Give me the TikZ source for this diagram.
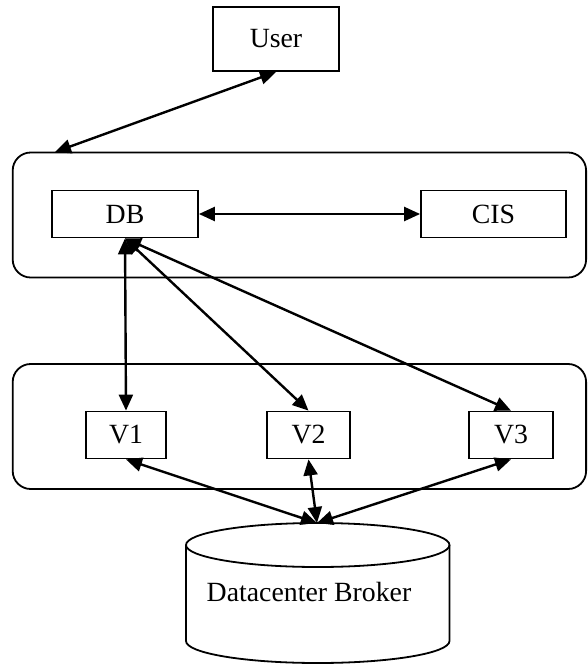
\documentclass[tikz,border=0pt]{standalone}
\usepackage{fontspec}
\setmainfont{Liberation Serif}
\usetikzlibrary{arrows.meta}
\begin{document}
\begin{tikzpicture}[x=0.5pt, y=-0.5pt, font=\fontsize{13.9}{16}\selectfont,
 box/.style={draw, line width=0.9pt, inner sep=0pt, minimum height=23.5pt},
 group/.style={draw, line width=0.9pt, rounded corners=9pt, minimum width=286.7pt, minimum height=62.5pt},
 link/.style={<->, >={Triangle[length=8pt,width=7pt]}, line width=1.2pt}]
\useasboundingbox (0,0) rectangle (588,665);
\node[group] (upper) at (299.4,215) {};
\node[group] (lower) at (299.4,426.5) {};
\node[box, minimum width=63pt, minimum height=32pt] (user) at (276,39) {User};
\node[box, minimum width=73pt] (db) at (125,214) {DB};
\node[box, minimum width=72.5pt] (cis) at (493.5,214) {CIS};
\node[box, minimum width=40pt] (v1) at (126,435) {V1};
\node[box, minimum width=41.5pt] (v2) at (308.5,435) {V2};
\node[box, minimum width=42pt] (v3) at (511,435) {V3};
% datacenter broker
\draw[line width=0.9pt] (186,545) -- (186,641) arc[start angle=180, end angle=0, x radius=131.75, y radius=22] -- (449.5,545);
\draw[line width=0.9pt] (317.75,545) ellipse[x radius=131.75, y radius=22];
\node (broker) at (309,592) {Datacenter Broker};
\coordinate (entry) at (55,152);
\coordinate (dcb) at (317,523);
\draw[link] (user.south) -- (entry);
\draw[link] (db) -- (cis);
\draw[link] (db.south) -- (v1.north);
\draw[link] (db.south) -- (v2.north);
\draw[link] (db.south) -- (v3.north);
\draw[link] (v1.south) -- (dcb);
\draw[link] (v2.south) -- (dcb);
\draw[link] (v3.south) -- (dcb);
\end{tikzpicture}
\end{document}
